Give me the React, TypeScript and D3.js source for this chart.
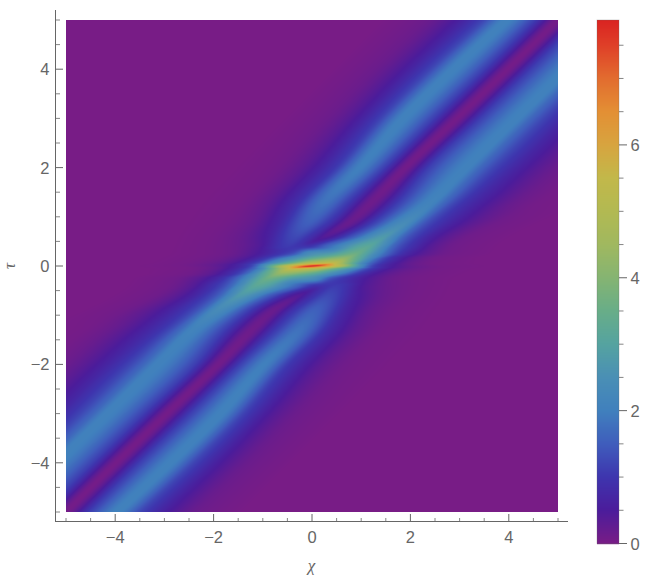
import React, { useMemo } from "react";
import * as d3 from "d3";

const WIDTH = 650;
const HEIGHT = 588;

// Colour legend: value -> colour
const colorValues = [0, 0.5, 1, 1.5, 2, 2.5, 3, 3.5, 4, 4.5, 5, 5.5, 6, 6.5, 7, 7.5, 7.88];
const colorHexes = ["#781C86", "#4B1C9B", "#3E35AE", "#3F5DBC", "#4080BD", "#4A8FB5", "#55A3A0", "#68AD88", "#85B472", "#A0B85F", "#B2B952", "#C2B84A", "#D7A43F", "#E38F34", "#E26C2F", "#DF3F28", "#DA2321"];

const axisTicks = d3.range(-5, 5.5, 0.5);
const axisLabels = [-4, -2, 0, 2, 4];
const barTicks = d3.range(0, 8, 0.5);
const barLabels = [0, 2, 4, 6];

// Intensity, as profiles along rows of constant tau (tau >= 0).
// Each row has 17 matching feature points: outer foot ... upper ridge ... valley ... lower ridge ... outer foot.
const tauRows = [0, 0.025, 0.06, 0.15, 0.25, 0.39, 0.6, 0.9, 1.3, 2, 3, 4, 5];
const chiKnots = [
  [-3.7, -2.7, -2.2, -1.75, -1.25, -0.9, -0.6, -0.3, 0, 0.3, 0.6, 0.9, 1.25, 1.75, 2.2, 2.7, 3.7],
  [-3.6, -2.7, -2.2, -1.75, -1.25, -0.9, -0.55, -0.25, 0.2, 0.45, 0.7, 1.0, 1.3, 1.7, 2.1, 2.6, 3.6],
  [-3.4, -2.6, -2.1, -1.65, -1.15, -0.8, -0.45, -0.1, 0.4, 0.65, 0.85, 1.1, 1.35, 1.65, 2.05, 2.5, 3.4],
  [-3.2, -2.4, -1.9, -1.4, -0.95, -0.6, -0.3, 0.1, 0.63, 0.85, 1.05, 1.25, 1.45, 1.7, 2.1, 2.55, 3.4],
  [-3.0, -2.2, -1.7, -1.2, -0.75, -0.4, -0.05, 0.4, 0.87, 1.1, 1.3, 1.5, 1.7, 1.95, 2.35, 2.8, 3.7],
  [-2.9, -2.1, -1.6, -1.1, -0.5, -0.3, -0.1, 0.35, 1.12, 1.3, 1.45, 1.6, 1.8, 2.05, 2.45, 2.9, 3.8],
  [-2.8, -2.0, -1.5, -0.95, -0.32, 0, 0.28, 0.8, 1.47, 1.65, 1.8, 1.95, 2.15, 2.4, 2.8, 3.2, 4.1],
  [-2.6, -1.75, -1.25, -0.7, -0.05, 0.35, 0.78, 1.3, 1.93, 2.15, 2.3, 2.5, 2.7, 3.0, 3.4, 3.85, 4.7],
  [-2.3, -1.45, -0.95, -0.35, 0.27, 0.72, 1.22, 1.8, 2.43, 2.7, 2.9, 3.1, 3.35, 3.75, 4.2, 4.7, 5.6],
  [-1.6, -0.75, -0.25, 0.45, 0.97, 1.45, 1.9, 2.4, 3.15, 3.45, 3.7, 3.95, 4.2, 4.6, 5.05, 5.55, 6.5],
  [-0.6, 0.25, 0.75, 1.35, 1.85, 2.45, 2.95, 3.45, 4.17, 4.47, 4.72, 4.97, 5.22, 5.62, 6.07, 6.57, 7.5],
  [0.4, 1.25, 1.75, 2.37, 2.87, 3.48, 3.98, 4.48, 5.2, 5.5, 5.75, 6.0, 6.25, 6.65, 7.1, 7.6, 8.5],
  [1.4, 2.3, 2.8, 3.45, 3.95, 4.5, 5.0, 5.5, 6.2, 6.5, 6.75, 7.0, 7.25, 7.65, 8.1, 8.6, 9.5],
];
const valueKnots = [
  [0, 0.05, 0.16, 0.42, 1.15, 2.9, 4.8, 6.4, 7.88, 6.4, 4.8, 2.9, 1.15, 0.42, 0.16, 0.05, 0],
  [0, 0.05, 0.16, 0.4, 1.1, 2.6, 4.2, 5.6, 7.0, 5.6, 4.2, 2.4, 1.1, 0.48, 0.18, 0.05, 0],
  [0, 0.05, 0.16, 0.4, 1.15, 2.4, 3.5, 4.8, 5.5, 4.3, 3.2, 1.95, 1.15, 0.6, 0.22, 0.06, 0],
  [0, 0.05, 0.14, 0.42, 1.05, 2.0, 2.7, 3.6, 4.3, 3.6, 2.8, 1.95, 1.25, 0.75, 0.28, 0.08, 0],
  [0, 0.05, 0.14, 0.42, 0.88, 1.35, 2.4, 2.85, 3.6, 3.0, 2.3, 1.65, 1.15, 0.7, 0.3, 0.09, 0],
  [0, 0.06, 0.16, 0.42, 1.05, 1.0, 1.0, 1.75, 3.2, 2.8, 2.3, 1.75, 1.25, 0.85, 0.35, 0.1, 0],
  [0, 0.06, 0.18, 0.52, 1.25, 0.85, 0.4, 1.35, 2.75, 2.3, 1.8, 1.4, 1.05, 0.68, 0.3, 0.1, 0],
  [0, 0.06, 0.2, 0.65, 1.55, 1.0, 0.18, 1.15, 2.35, 1.85, 1.45, 1.1, 0.85, 0.55, 0.27, 0.09, 0],
  [0, 0.06, 0.24, 0.8, 1.8, 1.1, 0.12, 1.15, 2.1, 1.65, 1.25, 0.95, 0.7, 0.38, 0.15, 0.04, 0],
  [0, 0.08, 0.28, 1.0, 2.0, 1.15, 0.08, 1.15, 2.05, 1.6, 1.2, 0.9, 0.65, 0.35, 0.14, 0.04, 0],
  [0, 0.12, 0.38, 1.1, 2.05, 1.15, 0.06, 1.15, 2.05, 1.6, 1.2, 0.9, 0.65, 0.35, 0.14, 0.04, 0],
  [0, 0.14, 0.42, 1.15, 2.05, 1.15, 0.05, 1.15, 2.05, 1.6, 1.2, 0.9, 0.65, 0.35, 0.14, 0.04, 0],
  [0, 0.14, 0.42, 1.15, 2.05, 1.15, 0.05, 1.15, 2.05, 1.6, 1.2, 0.9, 0.65, 0.35, 0.14, 0.04, 0],
];

const x = d3.scaleLinear().domain([-5, 5]).range([66, 558]);
const y = d3.scaleLinear().domain([-5, 5]).range([512, 20]);
const barY = d3.scaleLinear().domain([0, 7.88]).range([543.5, 20]);
const color = d3.scaleLinear<string>().domain(colorValues).range(colorHexes).interpolate(d3.interpolateRgb).clamp(true);

// Monotone piecewise-cubic through table points, so features stay smooth with no overshoot
function mono(xs: number[], ys: number[]) {
  const n = xs.length;
  const d: number[] = [];
  for (let i = 0; i < n - 1; i++) d.push((ys[i + 1] - ys[i]) / (xs[i + 1] - xs[i]));
  const m: number[] = [d[0]];
  for (let i = 1; i < n - 1; i++) {
    if (d[i - 1] * d[i] <= 0) m.push(0);
    else {
      const h0 = xs[i] - xs[i - 1];
      const h1 = xs[i + 1] - xs[i];
      const w1 = 2 * h1 + h0;
      const w2 = h1 + 2 * h0;
      m.push((w1 + w2) / (w1 / d[i - 1] + w2 / d[i]));
    }
  }
  m.push(d[n - 2]);
  return (q: number) => {
    if (q <= xs[0]) return ys[0];
    if (q >= xs[n - 1]) return ys[n - 1];
    const i = Math.min(n - 2, d3.bisectRight(xs, q) - 1);
    const h = xs[i + 1] - xs[i];
    const t = (q - xs[i]) / h;
    const t2 = t * t;
    const t3 = t2 * t;
    return (2 * t3 - 3 * t2 + 1) * ys[i] + (t3 - 2 * t2 + t) * h * m[i] + (-2 * t3 + 3 * t2) * ys[i + 1] + (t3 - t2) * h * m[i + 1];
  };
}

function renderField(): string {
  const x0 = x.range()[0];
  const w = x.range()[1] - x0;
  const y0 = y.range()[1];
  const h = y.range()[0] - y0;
  const canvas = document.createElement("canvas");
  canvas.width = w;
  canvas.height = h;
  const ctx = canvas.getContext("2d")!;
  const img = ctx.createImageData(w, h);
  const knotCount = chiKnots[0].length;
  const chiFns = d3.range(knotCount).map((k) => mono(tauRows, chiKnots.map((r) => r[k])));
  const valFns = d3.range(knotCount).map((k) => mono(tauRows, valueKnots.map((r) => r[k])));
  const lut = d3.range(0, 1601).map((i) => d3.rgb(color((i / 1600) * 7.88)));
  for (let py = 0; py < h; py++) {
    const tau = y.invert(y0 + py + 0.5);
    const at = Math.abs(tau);
    const sign = tau >= 0 ? 1 : -1;
    const cs = chiFns.map((f) => f(at));
    const vs = valFns.map((f) => f(at));
    const profile = mono(cs, vs);
    for (let px = 0; px < w; px++) {
      const chi = x.invert(x0 + px + 0.5) * sign;
      const v = Math.max(0, profile(chi));
      const c = lut[Math.min(1600, Math.round((v / 7.88) * 1600))];
      const o = (py * w + px) * 4;
      img.data[o] = c.r;
      img.data[o + 1] = c.g;
      img.data[o + 2] = c.b;
      img.data[o + 3] = 255;
    }
  }
  ctx.putImageData(img, 0, 0);
  return canvas.toDataURL("image/png");
}

const INK = "#666666";
const FONT = "'Liberation Sans', Arial, sans-serif";
const fmt = (v: number) => (v < 0 ? "\u2212" + Math.abs(v) : String(v));

export default function App() {
  const href = useMemo(renderField, []);
  const barSteps = d3.range(0, 524);
  return (
    <svg width={WIDTH} height={HEIGHT} viewBox={`0 0 ${WIDTH} ${HEIGHT}`} style={{ position: "absolute", left: 0, top: 0, display: "block" }}>
      <rect width={WIDTH} height={HEIGHT} fill="#fff" />
      <image href={href} x={66} y={20} width={492} height={492} />

      {/* axes */}
      <line x1={55.5} x2={55.5} y1={10} y2={522} stroke={INK} />
      <line x1={55} x2={568} y1={521.5} y2={521.5} stroke={INK} />
      {axisTicks.map((t) => {
        const major = axisLabels.includes(t);
        return (
          <g key={t} stroke={INK} strokeWidth={major ? 1 : 0.8}>
            <line x1={x(t)} x2={x(t)} y1={521} y2={major ? 514 : 518} />
            <line x1={56} x2={major ? 63 : 60} y1={y(t)} y2={y(t)} />
          </g>
        );
      })}
      {axisLabels.map((t) => (
        <g key={t} fill={INK} fontFamily={FONT} fontSize={16.5}>
          <text x={x(t)} y={542.5} textAnchor="middle">{fmt(t)}</text>
          <text x={49.5} y={y(t) + 6} textAnchor="end">{fmt(t)}</text>
        </g>
      ))}
      <text x={311.5} y={571} textAnchor="middle" fill={INK} fontFamily="'Liberation Serif', serif" fontStyle="italic" fontSize={17}>χ</text>
      <text transform="translate(15,266) rotate(-90)" textAnchor="middle" fill={INK} fontFamily="'Liberation Serif', serif" fontStyle="italic" fontSize={17}>τ</text>

      {/* colour bar */}
      {barSteps.map((i) => (
        <rect key={i} x={597} y={20 + i} width={22} height={1.2} fill={color(barY.invert(20.5 + i))} />
      ))}
      <rect x={597} y={20} width={22} height={523.5} fill="none" stroke="#666" strokeOpacity={0.35} strokeWidth={0.8} />
      {barTicks.map((t) => {
        const major = barLabels.includes(t);
        return <line key={t} x1={619} x2={major ? 627 : 623.5} y1={barY(t)} y2={barY(t)} stroke={INK} strokeWidth={major ? 1 : 0.8} />;
      })}
      {barLabels.map((t) => (
        <text key={t} x={630.5} y={barY(t) + 6} fill={INK} fontFamily={FONT} fontSize={16.5}>{t}</text>
      ))}
    </svg>
  );
}
